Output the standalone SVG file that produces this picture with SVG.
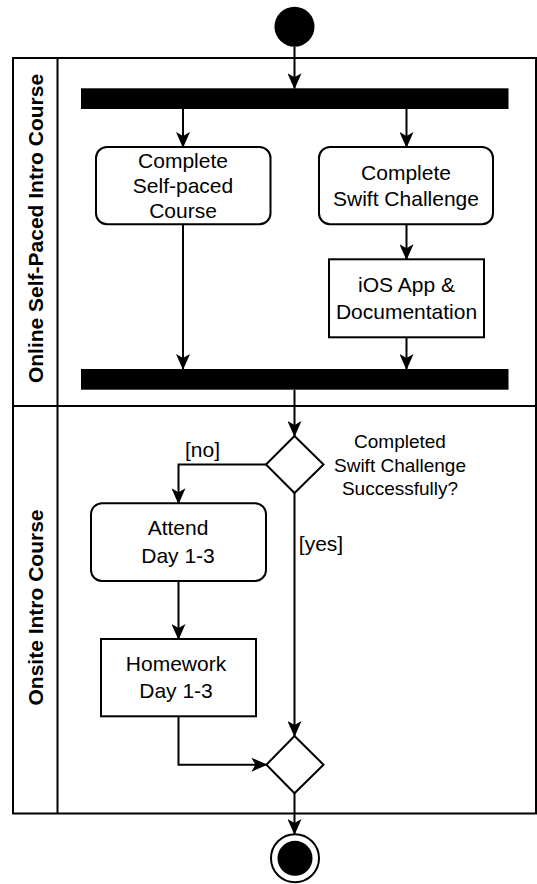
<svg xmlns="http://www.w3.org/2000/svg" width="537" height="884" viewBox="0 0 537 884">
<defs>
<style>
.ln{fill:none;stroke:#000;stroke-width:2}
.box{fill:#fff;stroke:#000;stroke-width:2}
.t{font-family:"Liberation Sans",Arial,sans-serif;font-size:21px;fill:#000;text-anchor:middle}
.q{font-family:"Liberation Sans",Arial,sans-serif;font-size:19px;fill:#000;text-anchor:middle}
.lane{font-family:"Liberation Sans",Arial,sans-serif;font-size:21px;font-weight:bold;fill:#000;text-anchor:middle}
.bar{fill:#000;stroke:none}
</style>
<marker id="arr" markerUnits="userSpaceOnUse" viewBox="0 0 16 14" markerWidth="16" markerHeight="14" refX="15" refY="7" orient="auto">
<path d="M0,0 L16,7 L0,14 L4,7 Z" fill="#000"/>
</marker>
</defs>
<g id="pool">
<rect x="13" y="58" width="523" height="755.5" class="box"/>
<line x1="57.5" y1="58" x2="57.5" y2="813.5" class="ln"/>
<line x1="13" y1="406" x2="536" y2="406" class="ln"/>
<text class="lane" transform="translate(43,228.5) rotate(-90)">Online Self-Paced Intro Course</text>
<text class="lane" transform="translate(43,607.5) rotate(-90)">Onsite Intro Course</text>
</g>
<g id="connectors">
<path d="M294.5,46.7 L294.5,88.3" class="ln" marker-end="url(#arr)"/>
<path d="M183,109 L183,147" class="ln" marker-end="url(#arr)"/>
<path d="M406.5,109 L406.5,147" class="ln" marker-end="url(#arr)"/>
<path d="M183,224.3 L183,369" class="ln" marker-end="url(#arr)"/>
<path d="M406.5,224.3 L406.5,259.3" class="ln" marker-end="url(#arr)"/>
<path d="M406.5,337.3 L406.5,369" class="ln" marker-end="url(#arr)"/>
<path d="M294.5,389.7 L294.5,436" class="ln" marker-end="url(#arr)"/>
<path d="M266,464.5 L178.5,464.5 L178.5,503.3" class="ln" marker-end="url(#arr)"/>
<path d="M294.5,493 L294.5,736" class="ln" marker-end="url(#arr)"/>
<path d="M178.5,581 L178.5,639" class="ln" marker-end="url(#arr)"/>
<path d="M178.5,716.3 L178.5,764.7 L266.4,764.7" class="ln" marker-end="url(#arr)"/>
<path d="M294.5,793.3 L294.5,834" class="ln" marker-end="url(#arr)"/>
<text class="t" x="202.5" y="457">[no]</text>
<text class="t" x="321" y="551">[yes]</text>
</g>
<g id="start"><circle cx="294.5" cy="26.7" r="20" fill="#000"/></g>
<g id="fork"><rect x="81" y="88.3" width="427.5" height="20.7" class="bar"/></g>
<g id="selfpaced">
<rect x="96" y="147" width="174.5" height="77.3" rx="11" class="box"/>
<text class="t" x="183" y="167.7">Complete</text>
<text class="t" x="183" y="192.7">Self-paced</text>
<text class="t" x="183" y="217.7">Course</text>
</g>
<g id="swift">
<rect x="319" y="147" width="174" height="77.3" rx="11" class="box"/>
<text class="t" x="406" y="180">Complete</text>
<text class="t" x="406" y="205.5">Swift Challenge</text>
</g>
<g id="ios">
<rect x="329" y="259.3" width="155" height="78" class="box"/>
<text class="t" x="406.5" y="292">iOS App &amp;</text>
<text class="t" x="406.5" y="318.5">Documentation</text>
</g>
<g id="join"><rect x="81" y="369" width="427.5" height="20.7" class="bar"/></g>
<g id="decision">
<path d="M294.5,436 L323.5,464.5 L294.5,493 L266,464.5 Z" class="box"/>
<text class="q" x="400" y="448">Completed</text>
<text class="q" x="400" y="471.5">Swift Challenge</text>
<text class="q" x="400" y="495">Successfully?</text>
</g>
<g id="attend">
<rect x="91" y="503.3" width="175" height="77.7" rx="11" class="box"/>
<text class="t" x="178" y="534.7">Attend</text>
<text class="t" x="178" y="562.7">Day 1-3</text>
</g>
<g id="homework">
<rect x="101" y="639" width="155" height="77.3" class="box"/>
<text class="t" x="176" y="671">Homework</text>
<text class="t" x="176" y="697.7">Day 1-3</text>
</g>
<g id="merge">
<path d="M294.5,736 L323.5,764.7 L294.5,793.3 L266.4,764.7 Z" class="box"/>
</g>
<g id="end">
<circle cx="295" cy="858.3" r="24" fill="#fff" stroke="#000" stroke-width="2"/>
<circle cx="295" cy="858.3" r="17.5" fill="#000"/>
</g>
</svg>
